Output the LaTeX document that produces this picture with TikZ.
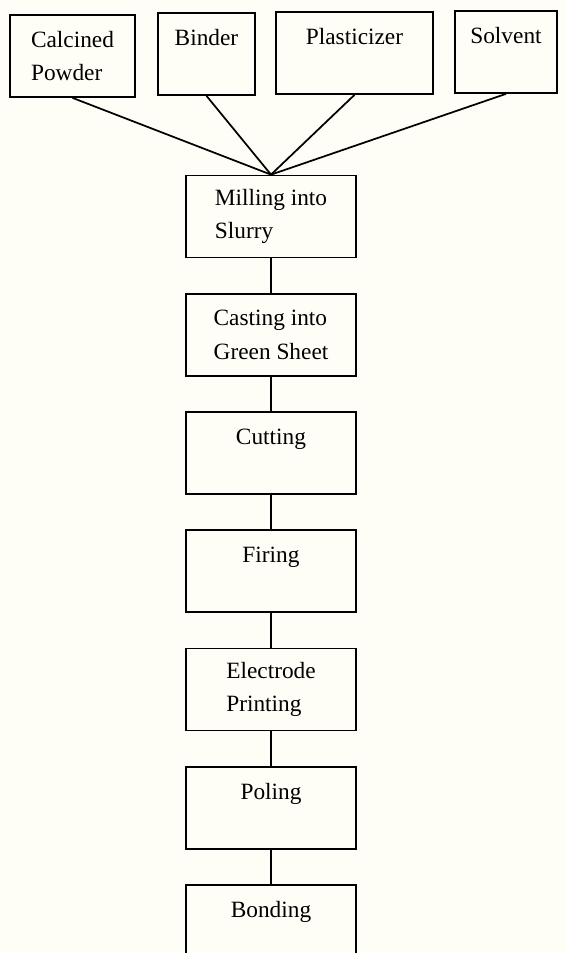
\documentclass[tikz,border=0pt]{standalone}
\usepackage{fontspec}
\setmainfont{Liberation Serif}
\usetikzlibrary{positioning}
\definecolor{paper}{RGB}{254,253,246}
\tikzset{%
  stepbox/.style={%
    draw=black,
    line width=1.3pt,
    rectangle,
    align=left,
    inner sep=0pt,
    font=\fontsize{17.5}{25}\selectfont,
    minimum width=128pt,
    minimum height=61.5pt%
  },
  inbox/.style={%
    stepbox,
    minimum height=61.5pt
  },
  link/.style={%
    every edge/.append style={line width=1.3pt}
  }
}

\begin{document}
\begin{tikzpicture}[x=0.75pt,y=-0.75pt,node distance=25.9pt]
      \fill[paper] (0,0) rectangle (566,953);
      \useasboundingbox (0,0) rectangle (566,953);

      % raw materials
      \node[inbox, minimum width=93.75pt]  (pow)  at (72.5,56)  {Calcined\\Powder};
      \node[inbox, minimum width=72.75pt]  (bind) at (206.5,54) {Binder\\\mbox{}};
      \node[inbox, minimum width=117.75pt] (plas) at (354.5,53) {Plasticizer\\\mbox{}};
      \node[inbox, minimum width=76.5pt]   (solv) at (506,52)   {Solvent\\\mbox{}};

      % process chain
      \node[stepbox]                  (mill) at (271,216.5) {Milling into\\Slurry};
      \node[stepbox, below = of mill] (cast) {Casting into\\Green Sheet};
      \node[stepbox, below = of cast] (cut)  {Cutting\\\mbox{}};
      \node[stepbox, below = of cut]  (fire) {Firing\\\mbox{}};
      \node[stepbox, below = of fire] (elec) {Electrode\\Printing};
      \node[stepbox, below = of elec] (pole) {Poling\\\mbox{}};
      \node[stepbox, below = of pole] (bond) {Bonding\\\mbox{}};

      \path[link]
        (pow.south) edge (mill.north)
        (bind.south) edge (mill.north)
        (plas.south) edge (mill.north)
        (solv.south) edge (mill.north)
        (mill) edge (cast)
        (cast) edge (cut)
        (cut) edge (fire)
        (fire) edge (elec)
        (elec) edge (pole)
        (pole) edge (bond);
\end{tikzpicture}
\end{document}
